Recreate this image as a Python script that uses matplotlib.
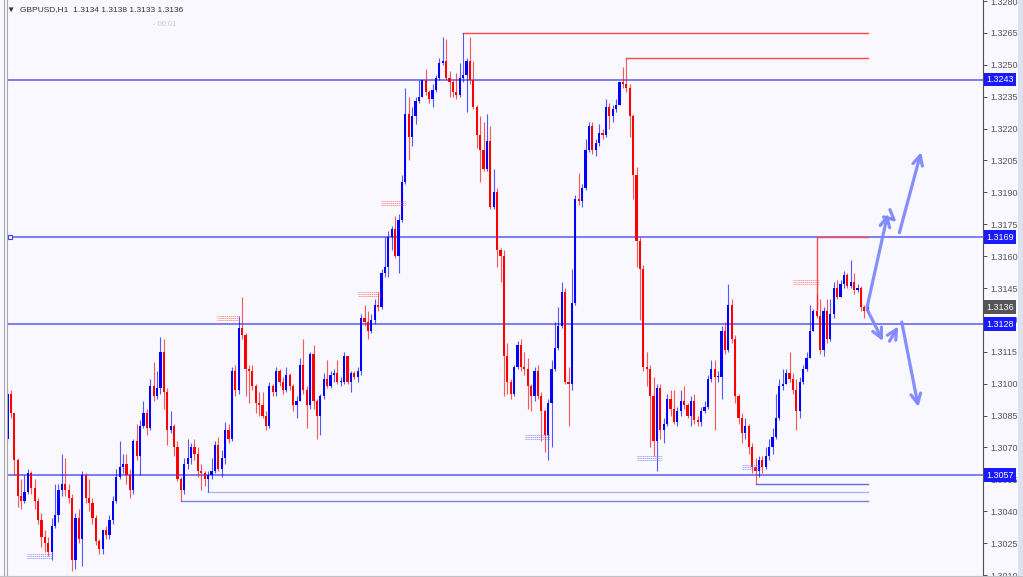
import matplotlib
matplotlib.use('Agg')
import matplotlib.pyplot as plt
import matplotlib.transforms as mtransforms
from matplotlib.patches import Rectangle
from matplotlib.lines import Line2D
import numpy as np

plt.rcParams['font.family'] = ['Liberation Sans', 'DejaVu Sans']

# GBPUSD H1 candles (open of each bar = previous close)
first_open = 1.3074
close = [1.3095, 1.3086, 1.3064, 1.3047, 1.3045, 1.3049, 1.3058, 1.3051, 1.3045, 1.3036,
         1.3028, 1.3025, 1.3021, 1.3033, 1.3038, 1.3050, 1.3053, 1.3050, 1.3046, 1.3017,
         1.3037, 1.3027, 1.3057, 1.3046, 1.3044, 1.3037, 1.3026, 1.3022, 1.3031, 1.3029,
         1.3036, 1.3045, 1.3056, 1.3061, 1.3062, 1.3057, 1.3050, 1.3073, 1.3066, 1.3080,
         1.3086, 1.3079, 1.3099, 1.3094, 1.3098, 1.3115, 1.3096, 1.3078, 1.3080, 1.3070,
         1.3055, 1.3050, 1.3062, 1.3065, 1.3070, 1.3067, 1.3059, 1.3058, 1.3055, 1.3057,
         1.3059, 1.3071, 1.3060, 1.3065, 1.3078, 1.3074, 1.3106, 1.3097, 1.3126, 1.3123,
         1.3107, 1.3106, 1.3099, 1.3091, 1.3090, 1.3085, 1.3080, 1.3099, 1.3096, 1.3106,
         1.3101, 1.3097, 1.3104, 1.3099, 1.3090, 1.3092, 1.3109, 1.3097, 1.3090, 1.3114,
         1.3092, 1.3085, 1.3094, 1.3102, 1.3099, 1.3104, 1.3105, 1.3101, 1.3101, 1.3113,
         1.3101, 1.3105, 1.3103, 1.3106, 1.3131, 1.3129, 1.3125, 1.3130, 1.3137, 1.3136,
         1.3152, 1.3155, 1.3169, 1.3173, 1.3160, 1.3177, 1.3195, 1.3227, 1.3216, 1.3226,
         1.3233, 1.3235, 1.3243, 1.3237, 1.3234, 1.3238, 1.3244, 1.3251, 1.3252, 1.3244,
         1.3242, 1.3237, 1.3236, 1.3244, 1.3245, 1.3252, 1.3243, 1.3230, 1.3217, 1.3210,
         1.3201, 1.3214, 1.3183, 1.3190, 1.3163, 1.3160, 1.3113, 1.3101, 1.3095, 1.3108,
         1.3118, 1.3108, 1.3107, 1.3099, 1.3094, 1.3106, 1.3094, 1.3087, 1.3076, 1.3091,
         1.3107, 1.3117, 1.3127, 1.3143, 1.3101, 1.3100, 1.3138, 1.3187, 1.3186, 1.3192,
         1.3210, 1.3221, 1.3210, 1.3213, 1.3218, 1.3217, 1.3230, 1.3226, 1.3229, 1.3231,
         1.3242, 1.3241, 1.3239, 1.3226, 1.3198, 1.3167, 1.3154, 1.3108, 1.3107, 1.3094,
         1.3073, 1.3098, 1.3078, 1.3081, 1.3093, 1.3088, 1.3082, 1.3087, 1.3092, 1.3090,
         1.3085, 1.3092, 1.3083, 1.3082, 1.3087, 1.3089, 1.3102, 1.3107, 1.3103, 1.3103,
         1.3125, 1.3116, 1.3137, 1.3121, 1.3094, 1.3084, 1.3077, 1.3080, 1.3070, 1.3061,
         1.3059, 1.3064, 1.3061, 1.3066, 1.3070, 1.3075, 1.3084, 1.3099, 1.3100, 1.3105,
         1.3102, 1.3097, 1.3087, 1.3101, 1.3107, 1.3112, 1.3125, 1.3134, 1.3132, 1.3116,
         1.3134, 1.3121, 1.3133, 1.3145, 1.3141, 1.3147, 1.3151, 1.3146, 1.3148, 1.3144,
         1.3145, 1.3136, 1.3134, 1.3136]
high = [1.3098, 1.3097, 1.3086, 1.3065, 1.3055, 1.3057, 1.3060, 1.3059, 1.3055, 1.3046,
        1.3039, 1.3031, 1.3028, 1.3037, 1.3053, 1.3053, 1.3067, 1.3065, 1.3053, 1.3048,
        1.3039, 1.3041, 1.3059, 1.3058, 1.3055, 1.3046, 1.3038, 1.3027, 1.3031, 1.3033,
        1.3038, 1.3047, 1.3060, 1.3073, 1.3067, 1.3067, 1.3060, 1.3074, 1.3081, 1.3083,
        1.3092, 1.3088, 1.3102, 1.3110, 1.3106, 1.3122, 1.3121, 1.3098, 1.3087, 1.3081,
        1.3073, 1.3056, 1.3065, 1.3074, 1.3072, 1.3074, 1.3070, 1.3062, 1.3059, 1.3059,
        1.3065, 1.3073, 1.3075, 1.3069, 1.3082, 1.3081, 1.3108, 1.3109, 1.3132, 1.3141,
        1.3124, 1.3109, 1.3109, 1.3100, 1.3096, 1.3096, 1.3087, 1.3101, 1.3100, 1.3108,
        1.3107, 1.3103, 1.3108, 1.3105, 1.3100, 1.3094, 1.3112, 1.3121, 1.3099, 1.3115,
        1.3118, 1.3093, 1.3095, 1.3105, 1.3111, 1.3106, 1.3107, 1.3111, 1.3103, 1.3115,
        1.3112, 1.3106, 1.3106, 1.3108, 1.3133, 1.3137, 1.3134, 1.3133, 1.3140, 1.3143,
        1.3154, 1.3169, 1.3172, 1.3174, 1.3179, 1.3180, 1.3198, 1.3239, 1.3235, 1.3230,
        1.3235, 1.3243, 1.3243, 1.3248, 1.3238, 1.3241, 1.3245, 1.3253, 1.3263, 1.3262,
        1.3247, 1.3243, 1.3246, 1.3251, 1.3265, 1.3253, 1.3263, 1.3252, 1.3231, 1.3226,
        1.3223, 1.3227, 1.3221, 1.3201, 1.3192, 1.3164, 1.3163, 1.3119, 1.3102, 1.3109,
        1.3120, 1.3121, 1.3115, 1.3112, 1.3100, 1.3108, 1.3109, 1.3096, 1.3088, 1.3093,
        1.3111, 1.3129, 1.3136, 1.3148, 1.3145, 1.3108, 1.3154, 1.3189, 1.3199, 1.3194,
        1.3215, 1.3223, 1.3223, 1.3215, 1.3222, 1.3220, 1.3234, 1.3232, 1.3231, 1.3234,
        1.3242, 1.3249, 1.3253, 1.3241, 1.3227, 1.3202, 1.3169, 1.3156, 1.3115, 1.3109,
        1.3103, 1.3100, 1.3100, 1.3084, 1.3095, 1.3097, 1.3097, 1.3089, 1.3097, 1.3099,
        1.3091, 1.3094, 1.3095, 1.3085, 1.3089, 1.3092, 1.3104, 1.3111, 1.3111, 1.3106,
        1.3127, 1.3129, 1.3147, 1.3140, 1.3123, 1.3095, 1.3086, 1.3084, 1.3081, 1.3072,
        1.3065, 1.3066, 1.3066, 1.3070, 1.3074, 1.3079, 1.3095, 1.3102, 1.3107, 1.3107,
        1.3115, 1.3105, 1.3102, 1.3103, 1.3109, 1.3115, 1.3137, 1.3135, 1.3142, 1.3140,
        1.3136, 1.3140, 1.3140, 1.3148, 1.3149, 1.3149, 1.3153, 1.3152, 1.3158, 1.3152,
        1.3147, 1.3146, 1.3137, 1.3138]
low = [1.3072, 1.3084, 1.3057, 1.3042, 1.3041, 1.3044, 1.3048, 1.3048, 1.3041, 1.3034,
       1.3023, 1.3021, 1.3019, 1.3017, 1.3032, 1.3035, 1.3047, 1.3047, 1.3044, 1.3012,
       1.3013, 1.3025, 1.3014, 1.3044, 1.3040, 1.3034, 1.3024, 1.3020, 1.3020, 1.3027,
       1.3027, 1.3034, 1.3044, 1.3055, 1.3058, 1.3053, 1.3046, 1.3048, 1.3064, 1.3057,
       1.3079, 1.3076, 1.3078, 1.3092, 1.3093, 1.3095, 1.3088, 1.3071, 1.3077, 1.3066,
       1.3054, 1.3045, 1.3048, 1.3060, 1.3062, 1.3064, 1.3056, 1.3050, 1.3052, 1.3049,
       1.3055, 1.3058, 1.3059, 1.3056, 1.3062, 1.3072, 1.3073, 1.3094, 1.3095, 1.3121,
       1.3094, 1.3091, 1.3097, 1.3086, 1.3085, 1.3084, 1.3078, 1.3079, 1.3094, 1.3094,
       1.3099, 1.3095, 1.3096, 1.3097, 1.3087, 1.3084, 1.3092, 1.3095, 1.3079, 1.3088,
       1.3088, 1.3074, 1.3076, 1.3093, 1.3098, 1.3098, 1.3101, 1.3100, 1.3099, 1.3100,
       1.3100, 1.3096, 1.3102, 1.3101, 1.3104, 1.3127, 1.3121, 1.3124, 1.3128, 1.3134,
       1.3135, 1.3150, 1.3150, 1.3163, 1.3159, 1.3152, 1.3176, 1.3194, 1.3205, 1.3212,
       1.3222, 1.3232, 1.3235, 1.3236, 1.3232, 1.3230, 1.3237, 1.3243, 1.3250, 1.3243,
       1.3235, 1.3235, 1.3234, 1.3235, 1.3242, 1.3228, 1.3241, 1.3229, 1.3211, 1.3195,
       1.3200, 1.3200, 1.3182, 1.3182, 1.3155, 1.3148, 1.3094, 1.3095, 1.3093, 1.3094,
       1.3107, 1.3106, 1.3104, 1.3088, 1.3087, 1.3092, 1.3093, 1.3073, 1.3068, 1.3064,
       1.3070, 1.3106, 1.3116, 1.3126, 1.3100, 1.3080, 1.3097, 1.3137, 1.3184, 1.3183,
       1.3191, 1.3209, 1.3208, 1.3207, 1.3212, 1.3215, 1.3216, 1.3220, 1.3223, 1.3228,
       1.3231, 1.3239, 1.3237, 1.3216, 1.3187, 1.3155, 1.3130, 1.3106, 1.3099, 1.3070,
       1.3066, 1.3059, 1.3074, 1.3072, 1.3080, 1.3085, 1.3081, 1.3080, 1.3085, 1.3088,
       1.3084, 1.3080, 1.3081, 1.3080, 1.3080, 1.3086, 1.3088, 1.3101, 1.3078, 1.3101,
       1.3093, 1.3114, 1.3115, 1.3119, 1.3091, 1.3081, 1.3072, 1.3074, 1.3067, 1.3058,
       1.3053, 1.3056, 1.3058, 1.3060, 1.3064, 1.3067, 1.3074, 1.3083, 1.3097, 1.3101,
       1.3101, 1.3095, 1.3078, 1.3084, 1.3100, 1.3106, 1.3112, 1.3125, 1.3131, 1.3114,
       1.3113, 1.3119, 1.3120, 1.3131, 1.3140, 1.3141, 1.3145, 1.3145, 1.3145, 1.3142,
       1.3143, 1.3134, 1.3131, 1.3133]

# horizontal levels
level_prices = [1.3243, 1.3169, 1.3128, 1.3057]
# red resistance lines: start bar, level price, price where the vertical leg starts
res_start = [134, 182, 238]
res_price = [1.3265, 1.3253, 1.3169]
res_base = [1.3265, 1.3253, 1.3135]
# blue support lines
sup_start = [51, 59, 220]
sup_price = [1.3045, 1.3049, 1.3053]
sup_color = ['#7c7ce6', '#b4b4ee', '#6a6ad8']
line_end = 253

# small hatched marks: bar from, bar to, price, color
mark_x0 = [61.6, 103.1, 109.9, 231.0, 5.7, 152.2, 185.1, 216.0]
mark_x1 = [68.4, 109.6, 117.2, 238.7, 13.1, 159.6, 192.5, 221.3]
mark_p = [1.3131, 1.3142, 1.3185, 1.3148, 1.3019, 1.3075, 1.3065, 1.3061]
mark_c = ['#ff5050'] * 4 + ['#6a6af0'] * 4

# forecast arrows: tail bar, tail price, head bar, head price
arr_x0 = [252.8, 260.1, 262.3, 252.8, 259.4, 263.0]
arr_p0 = [1.3136, 1.3178, 1.3171, 1.3135, 1.3120, 1.3129]
arr_x1 = [258.9, 261.5, 268.7, 257.5, 262.0, 267.9]
arr_p1 = [1.3180, 1.3176, 1.3209, 1.3120, 1.3127, 1.3089]

yticks = np.arange(1.3010, 1.32801, 0.0015)

bg = '#f8f8fe'
W, H = 1023, 577
fig = plt.figure(figsize=(W / 100, H / 100), dpi=100, facecolor=bg)
ax = fig.add_axes([8 / W, 2 / H, 975 / W, 575 / H], facecolor=bg)

n = len(close)
x = np.arange(n)
opens = np.array([first_open] + close[:-1])
c = np.array(close)
hi = np.maximum.reduce([np.array(high), opens, c])
lo = np.minimum.reduce([np.array(low), opens, c])
up = c >= opens
cols = np.where(up, '#0000ff', '#ff0000')

ax.vlines(x, lo, hi, colors=cols, lw=0.8, alpha=0.65, zorder=3)
body_lo = np.minimum(opens, c)
body_h = np.maximum(np.abs(c - opens), 0.00004)
ax.bar(x, body_h, bottom=body_lo, width=0.66, color=cols, linewidth=0, zorder=4)

for p in level_prices:
    ax.axhline(p, color='#4040ee', lw=1.1, alpha=0.85, zorder=2)
ax.plot([0.6], [1.3169], marker='s', ms=3, mfc=bg, mec='#4040ee', mew=0.8, zorder=5, clip_on=False)

for s, p, b in zip(res_start, res_price, res_base):
    ax.plot([s, s, line_end], [b, p, p], color='#ff4a4a', lw=1.0, zorder=2)
for s, p, col in zip(sup_start, sup_price, sup_color):
    ax.plot([s, line_end], [p, p], color=col, lw=1.0, zorder=2)

for a, b, p, col in zip(mark_x0, mark_x1, mark_p, mark_c):
    for d in (-0.00009, 0, 0.00009):
        ax.plot([a, b], [p + d, p + d], color=col, lw=0.6, alpha=0.7,
                dashes=(1.5, 0.8), zorder=5)

for a, pa, b, pb in zip(arr_x0, arr_p0, arr_x1, arr_p1):
    ax.annotate('', xy=(b, pb), xytext=(a, pa),
                arrowprops=dict(arrowstyle='->,head_length=0.7,head_width=0.35',
                                color='#8088ff', lw=2.3, shrinkA=0, shrinkB=0,
                                alpha=0.95), zorder=6)

ax.set_xlim(0.15, 286.9)
ax.set_ylim(1.30110, 1.32805)

for s in ['top', 'left', 'bottom']:
    ax.spines[s].set_visible(False)
ax.spines['right'].set_color('#505050')
ax.spines['right'].set_linewidth(0.8)
ax.set_xticks([])
ax.yaxis.tick_right()
ax.set_yticks(yticks)
ax.set_yticklabels(['%.4f' % v for v in yticks])
ax.tick_params(axis='y', length=3, width=0.7, color='#505050', labelsize=6.5,
               labelcolor='#555555', pad=2)

trans = mtransforms.blended_transform_factory(ax.transAxes, ax.transData)
for p in level_prices:
    ax.text(1.003, p, '%.4f' % p, transform=trans, fontsize=6.5, color='white',
            va='center', ha='left', zorder=10,
            bbox=dict(boxstyle='square,pad=0.25', fc='#1a1aff', ec='none'))
ax.text(1.003, c[-1], '%.4f' % c[-1], transform=trans, fontsize=6.5, color='white',
        va='center', ha='left', zorder=10,
        bbox=dict(boxstyle='square,pad=0.25', fc='#555555', ec='none'))

# header
fig.text(7 / W, 1 - 10 / H, '\u25bc  GBPUSD,H1  %.4f %.4f %.4f %.4f'
         % (opens[-1], hi[-1], lo[-1], c[-1]),
         fontsize=6.0, color='#333333', va='center', ha='left')
fig.text(153 / W, 1 - 25 / H, '- 00:01', fontsize=5.5, color='#c8c8d0',
         va='center', ha='left')

# window frame bits
fig.add_artist(Line2D([3.5 / W, 3.5 / W], [0, 1], color='#a8a8a8', lw=0.8))
fig.add_artist(Line2D([6.5 / W, 6.5 / W], [0, 1], color='#a8a8a8', lw=0.8))
fig.add_artist(Line2D([0, 1], [1.5 / H, 1.5 / H], color='#c0c0c8', lw=0.8))
fig.patches.append(Rectangle((1018 / W, 0), 5 / W, 1, transform=fig.transFigure,
                             facecolor='#dce2ee', edgecolor='none', zorder=-1))

fig.savefig('out.png', dpi=100, facecolor=bg)
